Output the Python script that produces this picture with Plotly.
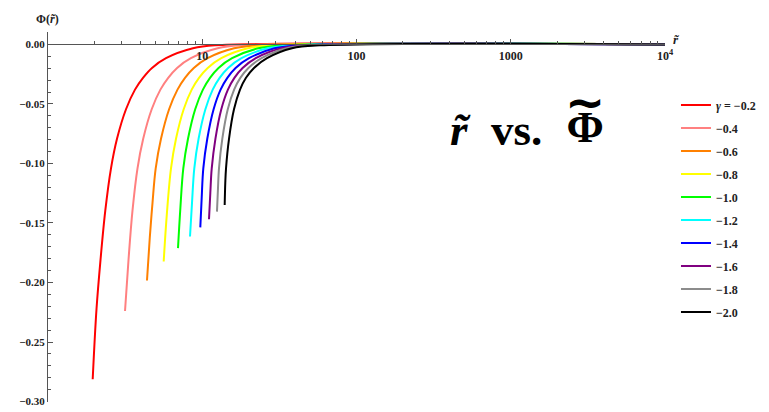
import plotly.graph_objects as go

# ---- data (r~ on log axis, Phi(r~)) ----
gamma_labels = ["<i>γ</i> = −0.2", "−0.4", "−0.6", "−0.8", "−1.0",
                "−1.2", "−1.4", "−1.6", "−1.8", "−2.0"]
colors = ["#FF0000", "#FF8080", "#FF8000", "#FFFF00", "#00FF00",
          "#00FFFF", "#0000FF", "#800080", "#8C8C8C", "#000000"]

# common upper part of the curves (same Phi levels for every gamma)
phi_upper = [-0.1041, -0.0793, -0.0545, -0.0380, -0.0281, -0.0198, -0.0116, -0.0033, -0.0008, 0.0]

r_g02 = [1.949, 2.063, 2.190, 2.352, 2.561, 2.801, 3.204, 3.664, 4.130, 4.723, 5.821, 8.710, 12.10, 10000]
phi_g02 = [-0.2813, -0.2223, -0.1810, -0.1397] + phi_upper

r_g04 = [3.157, 3.326, 3.530, 3.804, 4.142, 4.702, 5.354, 6.016, 6.870, 8.441, 12.59, 17.67, 10000]
phi_g04 = [-0.2240, -0.1810, -0.1397] + phi_upper

r_g06 = [4.383, 4.571, 4.759, 4.991, 5.402, 6.097, 6.910, 7.730, 8.814, 10.83, 16.09, 22.81, 10000]
phi_g06 = [-0.1983, -0.1620, -0.1331] + phi_upper

r_g08 = [5.624, 5.891, 6.272, 6.758, 7.580, 8.543, 9.526, 10.85, 13.29, 19.71, 28.20, 10000]
phi_g08 = [-0.1824, -0.1430] + phi_upper

r_g10 = [6.963, 7.216, 7.536, 8.084, 9.001, 10.10, 11.23, 12.75, 15.61, 23.05, 33.33, 10000]
phi_g10 = [-0.1711, -0.1372] + phi_upper

r_g12 = [8.329, 8.582, 8.881, 9.469, 10.48, 11.69, 12.96, 14.71, 17.97, 26.45, 38.58, 10000]
phi_g12 = [-0.1614, -0.1331] + phi_upper

r_g14 = [9.713, 9.917, 10.16, 10.78, 11.85, 13.15, 14.54, 16.45, 20.10, 29.45, 43.41, 10000]
phi_g14 = [-0.1537, -0.1289] + phi_upper

r_g16 = [11.06, 11.28, 11.52, 12.17, 13.29, 14.67, 16.16, 18.26, 22.24, 32.55, 48.40, 10000]
phi_g16 = [-0.1469, -0.1248] + phi_upper

r_g18 = [12.46, 12.65, 12.84, 13.49, 14.64, 16.09, 17.65, 19.92, 24.25, 35.33, 53.10, 10000]
phi_g18 = [-0.1405, -0.1207] + phi_upper

r_g20 = [13.98, 14.10, 14.26, 14.91, 16.06, 17.57, 19.21, 21.65, 26.29, 38.18, 57.99, 10000]
phi_g20 = [-0.1350, -0.1165] + phi_upper

x_tickvals = [10, 100, 1000, 10000]
x_ticktext = ["10", "100", "1000", "10<sup>4</sup>"]
x_minorvals = [m * d for d in (1, 10, 100, 1000) for m in range(2, 10)]
y_tickvals = [0.0, -0.05, -0.10, -0.15, -0.20, -0.25, -0.30]
y_ticktext = ["0.00", "−0.05", "−0.10", "−0.15", "−0.20", "−0.25", "−0.30"]

series = [(r_g02, phi_g02), (r_g04, phi_g04), (r_g06, phi_g06), (r_g08, phi_g08),
          (r_g10, phi_g10), (r_g12, phi_g12), (r_g14, phi_g14), (r_g16, phi_g16),
          (r_g18, phi_g18), (r_g20, phi_g20)]

SERIF = "Liberation Serif"
fig = go.Figure()
for i, ((xs, ys), name, col) in enumerate(zip(series, gamma_labels, colors)):
    fig.add_trace(go.Scatter(
        x=xs, y=ys, mode="lines", name=name, legendgroup=f"g{i}",
        line=dict(color=col, width=2, shape="spline", smoothing=1.0),
        hoverinfo="skip"))

y0, y1 = -0.3004, 0.0104
fig.update_layout(
    width=769, height=412,
    margin=dict(l=48, r=104, t=32, b=5),
    paper_bgcolor="white", plot_bgcolor="white",
    font=dict(family=SERIF, color="#222222"),
    showlegend=True,
    legend=dict(x=1.0178, xanchor="left", y=0.842, yanchor="top",
                font=dict(family=SERIF, size=12, weight="bold", color="#222222"),
                tracegroupgap=4, bgcolor="rgba(0,0,0,0)", itemwidth=30),
    xaxis=dict(type="log", range=[0, 4], anchor="free", position=(0 - y0) / (y1 - y0),
               showline=True, linecolor="#555555", linewidth=1,
               ticks="inside", ticklen=5, tickcolor="#555555",
               tickvals=x_tickvals, ticktext=x_ticktext, ticklabeloverflow="allow",
               tickfont=dict(family=SERIF, size=12, weight="bold", color="#222222"),
               minor=dict(tickvals=x_minorvals, ticks="inside", ticklen=3, tickcolor="#555555"),
               showgrid=False, zeroline=False),
    yaxis=dict(range=[y0, y1], showline=True, linecolor="#555555", linewidth=1,
               ticks="inside", ticklen=5, tickcolor="#555555",
               tickvals=y_tickvals, ticktext=y_ticktext, ticklabeloverflow="allow",
               tickfont=dict(family=SERIF, size=11, weight="bold", color="#222222"),
               minor=dict(dtick=0.01, tick0=0, ticks="inside", ticklen=3, tickcolor="#555555"),
               showgrid=False, zeroline=False),
)

def px_x(p):
    return (p - 48) / 617

def px_y(p):
    return (407 - p) / 375

fig.add_annotation(xref="paper", yref="paper", x=px_x(47), y=px_y(19),
                   text="<b>Φ(<i>r̃</i>)</b>", showarrow=False,
                   font=dict(family=SERIF, size=12, color="#222222"),
                   xanchor="center", yanchor="middle")
fig.add_annotation(xref="paper", yref="paper", x=px_x(676), y=px_y(40),
                   text="<b><i>r̃</i></b>", showarrow=False,
                   font=dict(family=SERIF, size=13, color="#222222"),
                   xanchor="center", yanchor="middle")

# big caption "r~ vs. Phi~"
TITLE_SIZE = 45
fig.add_annotation(xref="paper", yref="paper", x=px_x(460), y=px_y(131),
                   text="<b><i>r̃</i></b>", showarrow=False,
                   font=dict(family=SERIF, size=TITLE_SIZE, color="#000000"),
                   xanchor="center", yanchor="middle")
fig.add_annotation(xref="paper", yref="paper", x=px_x(489), y=px_y(131),
                   text="<b>vs.</b>", showarrow=False,
                   font=dict(family=SERIF, size=TITLE_SIZE, color="#000000"),
                   xanchor="left", yanchor="middle")
# Phi with a wide tilde stacked above it, in one text box
fig.add_annotation(xref="paper", yref="paper", x=px_x(585), y=px_y(156),
                   text=('<span style="font-family:DejaVu Sans;font-size:48px"><b>~</b></span>'
                         '<br><span style="font-size:45px"><b>Φ</b></span>'),
                   showarrow=False,
                   font=dict(family=SERIF, size=18, color="#000000"),
                   xanchor="center", yanchor="bottom")

fig.write_html("out.html")
